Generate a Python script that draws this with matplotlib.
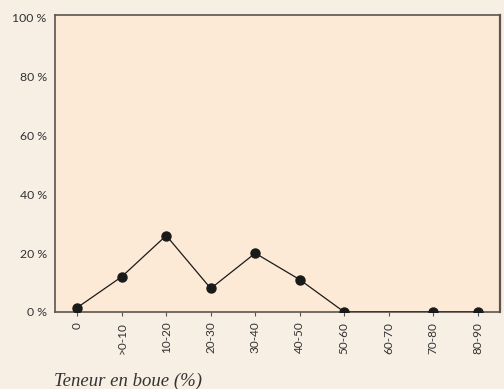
import matplotlib
matplotlib.use("Agg")
import matplotlib.pyplot as plt
import numpy as np

categories = ["0", ">0-10", "10-20", "20-30", "30-40", "40-50", "50-60", "60-70", "70-80", "80-90"]
values = [1.5, 12, 26, 8, 20, 11, 0, 0, 0, 0]
has_marker = [True, True, True, True, True, True, True, False, True, True]
ytick_vals = [0, 20, 40, 60, 80, 100]
ytick_labels = ["0 %", "20 %", "40 %", "60 %", "80 %", "100 %"]

fig = plt.figure(figsize=(5.04, 3.89), dpi=100)
fig.patch.set_facecolor("#f7eee4")
ax = fig.add_axes([55/504, 1-312/389, 445/504, 297/389])
ax.set_facecolor("#fdead6")

x = np.arange(len(categories))
ax.plot(x, values, color="#1a1a1a", lw=0.9, zorder=3)
mk = [i for i, m in enumerate(has_marker) if m]
ax.plot(x[mk], np.array(values)[mk], "o", color="#1a1a1a", ms=6.5, zorder=4)

ax.set_xlim(-0.5, 9.5)
ax.set_ylim(0, 101)
ax.set_xticks(x)
ax.set_xticklabels(categories, rotation=90, fontsize=8.5, color="#333333", family="Lato")
ax.set_yticks(ytick_vals)
ax.set_yticklabels(ytick_labels, fontsize=8.8, color="#333333", family="Lato")
ax.tick_params(axis="y", length=0, pad=6)
ax.tick_params(axis="x", length=3, width=0.8, color="#555555", pad=4)
for s in ax.spines.values():
    s.set_color("#5a5550")
    s.set_linewidth(1.2)
ax.spines["right"].set_linewidth(1.6)

fig.text(54/504, 1-381/389, "Teneur en boue (%)", fontsize=13.5, style="italic",
         family="Liberation Serif", color="#333333", va="center", ha="left")

fig.savefig("out.png", dpi=100, facecolor=fig.get_facecolor())
